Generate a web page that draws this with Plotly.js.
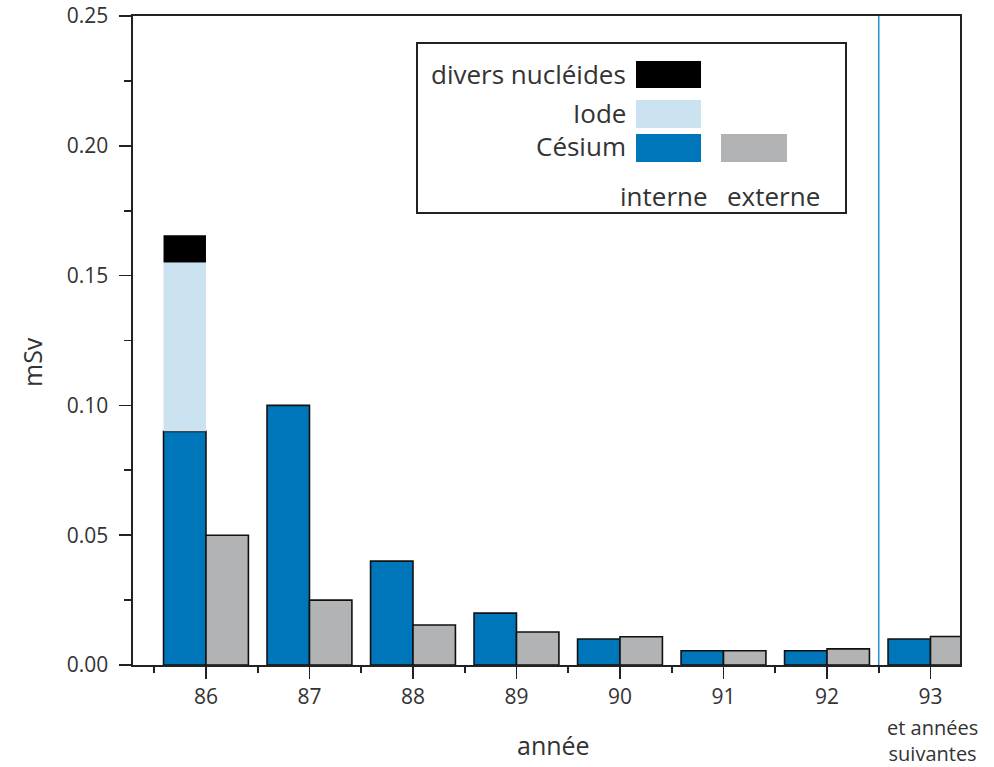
<!DOCTYPE html>
<html>
<head>
<meta charset="utf-8">
<script src="https://cdn.plot.ly/plotly-3.0.1.min.js"></script>
<style>html,body{margin:0;padding:0;background:#fff;}#chart{width:994px;height:767px;}</style>
</head>
<body>
<div id="chart"></div>
<script>
// ---- data ----
const annees = [86, 87, 88, 89, 90, 91, 92, 93];
const tickLabels = ["86", "87", "88", "89", "90", "91", "92", "93"];
const cesiumInterne = [0.090, 0.100, 0.040, 0.020, 0.010, 0.0055, 0.0055, 0.010];
const externe = [0.050, 0.025, 0.0154, 0.0127, 0.0109, 0.0055, 0.0062, 0.011];
const iodeAnnees = [86];
const iodeInterne = [0.065];
const diversAnnees = [86];
const diversInterne = [0.0105];

// ---- layout helpers ----
const W = 994, H = 767;
const L = 133, R = 960, T = 16, B = 665;
const px = x => (x - L) / (R - L);
const py = y => (B - y) / (B - T);
const font = "Open Sans, Liberation Sans, Arial, sans-serif";
const txt = "#333333";

const colCesium = "#0076ba", colIode = "#cbe2f0", colGris = "#b2b3b5";
const bw = 0.41;

const baseIode = iodeAnnees.map(a => cesiumInterne[annees.indexOf(a)]);
const baseDivers = diversAnnees.map((a, i) => baseIode[i] + iodeInterne[i]);

const traces = [
  {type: "bar", x: annees, y: cesiumInterne, width: bw, offset: -bw,
   marker: {color: colCesium, line: {color: "#111", width: 1.6}}, name: "Césium interne"},
  {type: "bar", x: iodeAnnees, y: iodeInterne, base: baseIode, width: bw, offset: -bw,
   marker: {color: colIode, line: {width: 0}}, name: "Iode"},
  {type: "bar", x: diversAnnees, y: diversInterne, base: baseDivers, width: bw, offset: -bw,
   marker: {color: "#000", line: {width: 0}}, name: "divers nucléides"},
  {type: "bar", x: annees, y: externe, width: bw, offset: 0,
   marker: {color: colGris, line: {color: "#111", width: 1.6}}, name: "externe"}
];

function rect(x0, y0, x1, y1, fill, line) {
  return {type: "rect", xref: "paper", yref: "paper", x0: px(x0), x1: px(x1), y0: py(y1), y1: py(y0),
          fillcolor: fill, line: line || {width: 0}, layer: "above"};
}
function label(text, x, y, anchor, size) {
  return {text: text, xref: "paper", yref: "paper", x: px(x), y: py(y), xanchor: anchor, yanchor: "middle",
          showarrow: false, font: {family: font, size: size || 26, color: txt}};
}

const layout = {
  width: W, height: H,
  margin: {l: L, r: W - R, t: T, b: H - B, pad: 0},
  paper_bgcolor: "#fff", plot_bgcolor: "#fff",
  barmode: "overlay",
  showlegend: false,
  xaxis: {
    range: [85.295, 93.285], tickmode: "array", tickvals: annees, ticktext: tickLabels,
    ticks: "outside", ticklen: 12, tickwidth: 1.6, tickcolor: "#222",
    minor: {dtick: 0.5, tick0: 85.5, ticks: "outside", ticklen: 6, tickwidth: 1.6, tickcolor: "#222"},
    showline: true, linecolor: "#222", linewidth: 1.6, mirror: true,
    showgrid: false, zeroline: false, ticklabelstandoff: 0,
    tickfont: {family: font, size: 21, color: txt}
  },
  yaxis: {
    range: [0, 0.25], dtick: 0.05, tick0: 0, tickformat: ".2f",
    ticks: "outside", ticklen: 12, tickwidth: 1.6, tickcolor: "#222",
    minor: {dtick: 0.025, ticks: "outside", ticklen: 7, tickwidth: 1.6, tickcolor: "#222"},
    showline: true, linecolor: "#222", linewidth: 1.6, mirror: true,
    showgrid: false, zeroline: false, ticklabelstandoff: 7,
    tickfont: {family: font, size: 21, color: txt}
  },
  shapes: [
    {type: "line", xref: "x", yref: "paper", x0: 92.5, x1: 92.5, y0: 0, y1: 1,
     line: {color: "#2a8dd0", width: 1.5}},
    rect(417, 43, 846, 213, "rgba(0,0,0,0)", {color: "#222", width: 2}),
    rect(636, 61, 701, 88, "#000"),
    rect(636, 100, 701, 128, colIode),
    rect(636, 134, 701, 162, colCesium),
    rect(721, 134, 787, 162, colGris)
  ],
  annotations: [
    label("divers nucléides", 628, 74, "right"),
    label("Iode", 628, 113, "right"),
    label("Césium", 628, 146, "right"),
    label("interne", 664, 196, "center"),
    label("externe", 773, 196, "center"),
    label("année", 553, 745, "center", 25),
    label("et années<br>suivantes", 932, 740, "center", 20),
    {text: "mSv", xref: "paper", yref: "paper", x: px(32), y: py(362), xanchor: "center", yanchor: "middle",
     textangle: -90, showarrow: false, font: {family: font, size: 25, color: txt}}
  ]
};

Plotly.newPlot("chart", traces, layout, {staticPlot: true, displayModeBar: false});
</script>
</body>
</html>
